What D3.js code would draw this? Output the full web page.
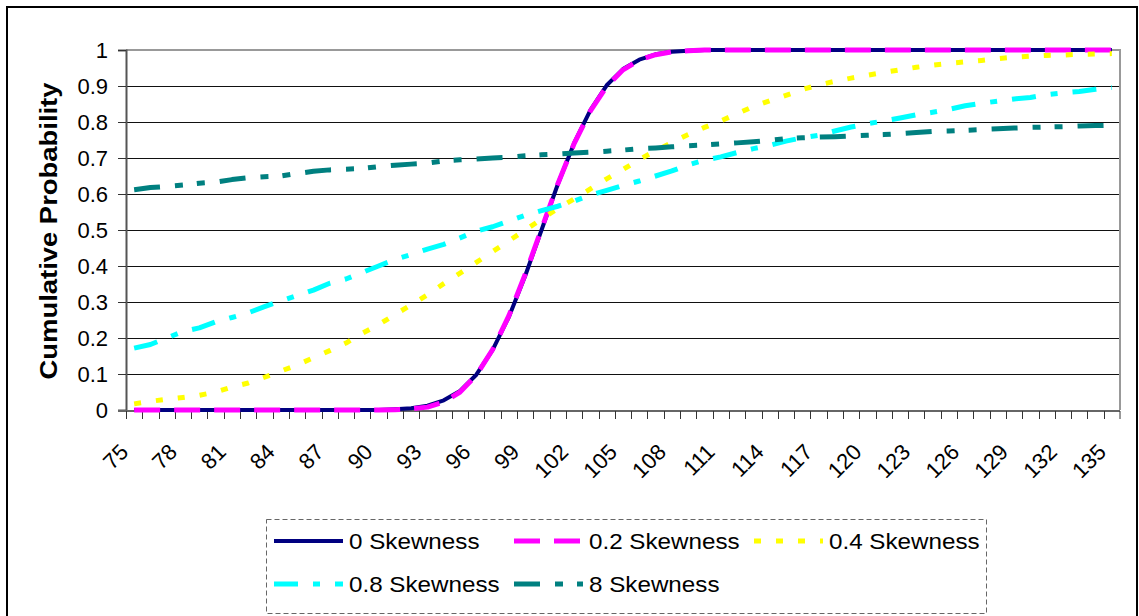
<!DOCTYPE html>
<html>
<head>
<meta charset="utf-8">
<script src="https://cdn.jsdelivr.net/npm/d3@7"></script>
<style>
  body { margin: 0; background: #fff; }
  text { font-family: Arial, "Liberation Sans", sans-serif; }
</style>
</head>
<body>
<div id="chart"></div>
<script>
// Cumulative probability vs value, for 5 skewness levels

// categories on the x axis (75 .. 135)
const categories = [75,76,77,78,79,80,81,82,83,84,85,86,87,88,89,90,91,92,93,94,95,96,97,98,99,100,
  101,102,103,104,105,106,107,108,109,110,111,112,113,114,115,116,117,118,119,120,
  121,122,123,124,125,126,127,128,129,130,131,132,133,134,135];

// only every third category gets a label
const xTickLabels = [75,78,81,84,87,90,93,96,99,102,105,108,111,114,117,120,123,126,129,132,135];
const yTicks = [0, 0.1, 0.2, 0.3, 0.4, 0.5, 0.6, 0.7, 0.8, 0.9, 1];

const skew0 = [0,0,0,0,0,0,0,0,0,0,0,0,0,0,0,0,0.002,0.005,0.012,0.027,0.053,0.098,0.167,0.259,0.373,0.5,
  0.627,0.741,0.833,0.902,0.947,0.973,0.988,0.995,0.998,1,1,1,1,1,1,1,1,1,1,1,
  1,1,1,1,1,1,1,1,1,1,1,1,1,1,1];
const skew02 = [0,0,0,0,0,0,0,0,0,0,0,0,0,0,0,0,0.001,0.003,0.008,0.022,0.05,0.097,0.168,0.262,0.377,0.503,
  0.628,0.74,0.831,0.899,0.945,0.972,0.987,0.995,0.998,1,1,1,1,1,1,1,1,1,1,1,
  1,1,1,1,1,1,1,1,1,1,1,1,1,1,1];
const skew04 = [0.017,0.024,0.03,0.035,0.041,0.05,0.064,0.075,0.091,0.108,0.125,0.145,0.165,0.186,0.213,0.237,
  0.265,0.292,0.32,0.351,0.38,0.41,0.44,0.47,0.5,0.53,0.56,0.586,0.614,0.642,0.668,0.696,0.72,0.743,0.765,
  0.785,0.803,0.823,0.843,0.859,0.874,0.89,0.903,0.913,0.922,0.93,0.938,0.945,0.952,0.958,0.963,0.967,
  0.971,0.976,0.98,0.983,0.985,0.986,0.988,0.989,0.99];
const skew08 = [0.172,0.182,0.2,0.218,0.228,0.245,0.257,0.27,0.287,0.303,0.318,0.333,0.352,0.364,0.382,0.4,
  0.418,0.432,0.447,0.46,0.478,0.497,0.509,0.525,0.541,0.554,0.566,0.58,0.597,0.61,0.624,0.636,0.65,0.664,
  0.681,0.694,0.703,0.715,0.726,0.735,0.747,0.756,0.763,0.775,0.786,0.795,0.803,0.811,0.82,0.827,0.835,
  0.845,0.852,0.858,0.864,0.868,0.876,0.881,0.885,0.891,0.896];
const skew8 = [0.612,0.618,0.621,0.625,0.63,0.633,0.64,0.645,0.648,0.65,0.657,0.663,0.667,0.669,0.671,0.676,
  0.68,0.683,0.686,0.692,0.695,0.697,0.7,0.702,0.706,0.709,0.711,0.714,0.716,0.719,0.722,0.726,0.728,0.731,
  0.734,0.736,0.739,0.742,0.745,0.749,0.754,0.756,0.758,0.759,0.761,0.763,0.765,0.768,0.771,0.774,0.775,
  0.777,0.779,0.781,0.783,0.785,0.786,0.787,0.789,0.79,0.791];

const seriesNames = ["0 Skewness", "0.2 Skewness", "0.4 Skewness", "0.8 Skewness", "8 Skewness"];

// styling per series
const series = [
  {name: seriesNames[0], values: skew0,  color: "#000080", width: 4, dash: null},
  {name: seriesNames[1], values: skew02, color: "#FF00FF", width: 5, dash: "26,14"},
  {name: seriesNames[2], values: skew04, color: "#FFFF00", width: 5, dash: "7,15"},
  {name: seriesNames[3], values: skew08, color: "#00FFFF", width: 5, dash: "24,15,7,15"},
  {name: seriesNames[4], values: skew8,  color: "#008080", width: 5, dash: "26,15,8,14,8,15"}
];

const W = 1139, H = 616;
const plot = {left: 126, right: 1120, top: 50, bottom: 410};

const svg = d3.select("#chart").append("svg")
  .attr("width", W)
  .attr("height", H);

// outer chart border (bottom edge runs off the picture)
svg.append("rect")
  .attr("x", 7).attr("y", 7)
  .attr("width", 1130).attr("height", 620)
  .attr("fill", "#fff")
  .attr("stroke", "#000")
  .attr("stroke-width", 2);

// scales
const x = d3.scaleBand()
  .domain(categories)
  .range([plot.left, plot.right])
  .padding(0);

const y = d3.scaleLinear()
  .domain([0, 1])
  .range([plot.bottom, plot.top]);

const cx = d => x(d) + x.bandwidth() / 2;

// gridlines
svg.append("g")
  .selectAll("line")
  .data(yTicks.filter(d => d > 0 && d < 1))
  .enter().append("line")
  .attr("x1", plot.left).attr("x2", plot.right)
  .attr("y1", d => Math.round(y(d)) + 0.5)
  .attr("y2", d => Math.round(y(d)) + 0.5)
  .attr("stroke", "#111")
  .attr("stroke-width", 1);

// plot area border (top + right, grey)
svg.append("path")
  .attr("d", "M" + plot.left + "," + plot.top + "H" + plot.right + "V" + plot.bottom)
  .attr("fill", "none")
  .attr("stroke", "#999")
  .attr("stroke-width", 2);

// y axis
const yAxis = svg.append("g")
  .attr("transform", "translate(" + plot.left + ",0)")
  .call(d3.axisLeft(y)
    .tickValues(yTicks)
    .tickFormat(d => String(d))
    .tickSize(8)
    .tickPadding(10));
yAxis.select(".domain").attr("stroke", "#555").attr("stroke-width", 2);
yAxis.selectAll(".tick line").attr("stroke", "#333").attr("stroke-width", 1);
yAxis.selectAll(".tick text")
  .style("font-size", "22px")
  .style("font-family", "Arial, 'Liberation Sans', sans-serif")
  .attr("fill", "#000");

// x axis: line, ticks at category boundaries, labels every 3rd category
const xAxis = svg.append("g");
xAxis.append("line")
  .attr("x1", plot.left - 8).attr("x2", plot.right)
  .attr("y1", plot.bottom + 1).attr("y2", plot.bottom + 1)
  .attr("stroke", "#666")
  .attr("stroke-width", 2);
xAxis.selectAll("line.tick")
  .data(categories.concat(["end"]))
  .enter().append("line")
  .attr("class", "tick")
  .attr("x1", d => d === "end" ? plot.right : Math.round(x(d)) + 0.5)
  .attr("x2", d => d === "end" ? plot.right : Math.round(x(d)) + 0.5)
  .attr("y1", plot.bottom + 1)
  .attr("y2", plot.bottom + 9)
  .attr("stroke", "#333")
  .attr("stroke-width", 1);
xAxis.selectAll("text")
  .data(xTickLabels)
  .enter().append("text")
  .attr("transform", d => "translate(" + (cx(d) - 10) + "," + (plot.bottom + 38) + ") rotate(-45)")
  .attr("text-anchor", "end")
  .attr("dy", "0.35em")
  .style("font-size", "22px")
  .text(d => d);

// y axis title
svg.append("text")
  .attr("transform", "translate(49,231) rotate(-90)")
  .attr("text-anchor", "middle")
  .attr("dy", "0.35em")
  .attr("textLength", 297)
  .attr("lengthAdjust", "spacingAndGlyphs")
  .style("font-size", "23px")
  .style("font-weight", "bold")
  .text("Cumulative Probability");

// lines
const line = d3.line()
  .x((d, i) => cx(categories[i]))
  .y(d => y(d));

svg.append("g")
  .selectAll("path")
  .data(series)
  .enter().append("path")
  .attr("d", d => line(d.values))
  .attr("fill", "none")
  .attr("stroke", d => d.color)
  .attr("stroke-width", d => d.width)
  .attr("stroke-dasharray", d => d.dash)
  .attr("stroke-linejoin", "round");

// legend
const legend = svg.append("g");
legend.append("rect")
  .attr("x", 266.5).attr("y", 519.5)
  .attr("width", 720).attr("height", 94)
  .attr("fill", "#fff")
  .attr("stroke", "#666")
  .attr("stroke-width", 1)
  .attr("stroke-dasharray", "5,3");

const legendPos = [
  {x: 274, y: 541}, {x: 514, y: 541}, {x: 754, y: 541},
  {x: 274, y: 584}, {x: 514, y: 584}
];

const items = legend.selectAll("g.item")
  .data(series)
  .enter().append("g")
  .attr("class", "item")
  .attr("transform", (d, i) => "translate(" + legendPos[i].x + "," + legendPos[i].y + ")");

items.append("line")
  .attr("x1", 0).attr("x2", 69)
  .attr("y1", 0).attr("y2", 0)
  .attr("stroke", d => d.color)
  .attr("stroke-width", d => d.width)
  .attr("stroke-dasharray", d => d.dash);

items.append("text")
  .attr("x", 75)
  .attr("dy", "0.35em")
  .style("font-size", "22px")
  .text(d => d.name)
  .attr("textLength", function() { return this.getComputedTextLength() * 1.1; })
  .attr("lengthAdjust", "spacingAndGlyphs");
</script>
</body>
</html>
